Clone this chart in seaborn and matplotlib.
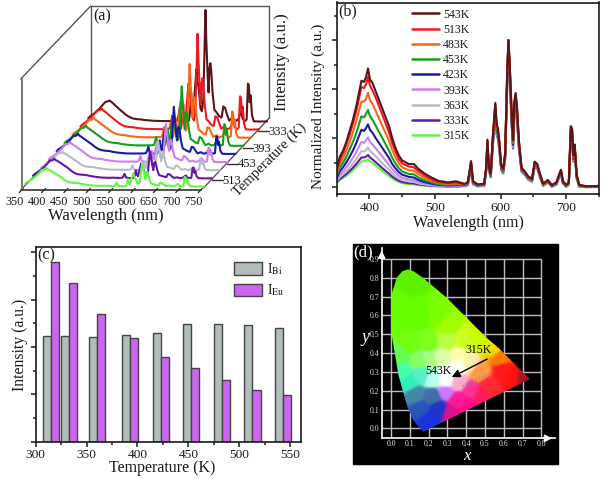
import numpy as np
import pandas as pd
import seaborn as sns
import matplotlib.pyplot as plt
from matplotlib.colors import to_rgb
from matplotlib.lines import Line2D
from matplotlib.patches import Patch, Polygon, Rectangle
from matplotlib.ticker import MultipleLocator
from matplotlib.transforms import Affine2D, IdentityTransform, ScaledTranslation

W, H = 602, 479

# spectra, wavelength grid split at the Bi band / Eu lines
wl_band = [350,355,360,365,370,375,380,385,388,392,395,398,401,405,410,415,420,425,430,435,440,445,450,460,468,475,485,495,505,520,532]
wl_eu = [545,550,553,555,558,565,575,578,580,582,585,588,592,594,596,598,601,604,607,610,612,614,617,619,621,623,625,628,632,637,642,648,652,656,660,665,672,678,685,689,692,695,700,704,707,709,711,713,716,720,730,745,750]

band_543 = [.7,1.25,1.5,1.85,2.3,2.75,3.3,3.95,4.35,4.3,4.5,4.85,4.4,4.25,3.9,3.55,3.2,2.85,2.5,2.0,1.6,1.3,1.1,.95,.95,.75,.55,.4,.27,.2,.25]
band_513 = [.65,1.1,1.4,1.75,2.15,2.6,3.1,3.7,4.1,4.05,4.2,4.5,4.15,3.95,3.65,3.3,2.95,2.6,2.25,1.8,1.45,1.15,.98,.85,.82,.65,.47,.33,.22,.17,.2]
band_483 = [.55,.95,1.2,1.5,1.85,2.25,2.7,3.2,3.5,3.5,3.6,3.86,3.55,3.4,3.1,2.8,2.5,2.2,1.9,1.52,1.22,.98,.82,.7,.68,.53,.38,.27,.18,.14,.16]
band_453 = [.45,.8,1.0,1.25,1.55,1.85,2.2,2.65,2.9,2.85,3.0,3.16,2.9,2.75,2.5,2.25,2.0,1.75,1.5,1.2,.97,.78,.65,.55,.53,.4,.28,.2,.13,.1,.12]
band_423 = [.37,.65,.82,1.02,1.25,1.5,1.8,2.15,2.35,2.3,2.42,2.57,2.35,2.22,2.0,1.8,1.6,1.4,1.2,.95,.77,.62,.52,.43,.4,.3,.21,.15,.1,.08,.09]
band_393 = [.3,.52,.65,.82,1.0,1.2,1.43,1.7,1.85,1.82,1.92,2.04,1.86,1.75,1.58,1.42,1.25,1.08,.92,.74,.6,.48,.4,.32,.3,.22,.16,.11,.08,.06,.07]
band_363 = [.25,.42,.53,.66,.8,.97,1.15,1.36,1.48,1.46,1.53,1.63,1.48,1.4,1.26,1.12,.98,.85,.72,.58,.46,.37,.3,.24,.22,.16,.12,.08,.06,.05,.05]
band_333 = [.2,.34,.44,.55,.67,.8,.95,1.12,1.22,1.22,1.25,1.32,1.22,1.14,1.02,.9,.78,.67,.56,.44,.35,.27,.22,.17,.16,.12,.09,.06,.05,.04,.04]
band_315 = [.17,.3,.38,.47,.58,.7,.83,.97,1.05,1.08,1.1,1.14,1.07,1.0,.88,.77,.66,.56,.46,.36,.28,.22,.17,.13,.12,.09,.07,.05,.04,.03,.03]

eu_543 = [.14,.2,.7,1.07,.25,.12,.15,.8,1.95,.9,.55,2.0,3.45,2.6,2.4,1.9,.9,.75,1.4,4.6,6.0,5.0,3.0,1.93,3.5,3.85,3.3,1.9,.8,.65,.45,.35,1.05,.95,.55,.15,.3,.1,.2,.5,.72,.25,.1,.2,2.5,2.4,1.3,1.75,.5,.1,.05,.05,.07]
eu_513 = [.13,.2,.68,1.05,.24,.11,.14,.78,1.9,.88,.53,1.95,3.38,2.55,2.35,1.85,.87,.73,1.37,4.55,6.0,4.95,2.95,1.89,3.43,3.77,3.23,1.86,.78,.63,.44,.34,1.03,.93,.54,.14,.29,.09,.19,.49,.7,.24,.09,.19,2.45,2.35,1.27,1.7,.49,.09,.05,.05,.06]
eu_483 = [.12,.18,.66,1.02,.23,.1,.13,.76,1.87,.86,.52,1.92,3.33,2.5,2.3,1.82,.85,.71,1.34,4.5,6.0,4.9,2.9,1.85,3.36,3.7,3.17,1.82,.76,.62,.43,.33,1.0,.91,.52,.13,.28,.08,.18,.48,.69,.23,.08,.18,2.4,2.3,1.25,1.68,.47,.08,.04,.04,.06]
eu_453 = [.1,.16,.62,.98,.21,.09,.12,.73,1.8,.83,.5,1.85,3.22,2.42,2.22,1.76,.82,.68,1.3,4.4,6.0,4.8,2.8,1.79,3.25,3.58,3.07,1.76,.74,.6,.41,.31,.97,.88,.5,.12,.27,.07,.17,.46,.67,.22,.07,.17,2.33,2.22,1.2,1.62,.45,.07,.03,.04,.05]
eu_423 = [.09,.14,.58,.94,.19,.08,.1,.7,1.75,.8,.48,1.8,3.12,2.35,2.15,1.7,.79,.65,1.26,4.3,6.0,4.7,2.7,1.73,3.15,3.46,2.97,1.7,.71,.58,.39,.29,.94,.85,.48,.1,.25,.06,.15,.44,.64,.2,.06,.15,2.25,2.15,1.16,1.57,.43,.06,.03,.03,.05]
eu_393 = [.08,.12,.55,.92,.17,.07,.09,.68,1.7,.78,.46,1.75,3.05,2.3,2.1,1.66,.77,.63,1.22,4.2,6.0,4.6,2.65,1.69,3.08,3.38,2.9,1.66,.69,.56,.37,.27,.91,.82,.46,.09,.24,.05,.14,.42,.62,.19,.05,.14,2.2,2.1,1.13,1.53,.41,.05,.02,.03,.04]
eu_363 = [.07,.11,.52,.89,.16,.06,.08,.66,1.66,.76,.44,1.7,2.98,2.24,2.05,1.62,.75,.6,1.18,4.1,6.0,4.5,2.6,1.65,3.0,3.3,2.83,1.62,.67,.54,.35,.26,.88,.8,.44,.08,.22,.04,.13,.4,.6,.18,.04,.13,2.15,2.05,1.1,1.49,.39,.04,.02,.02,.04]
eu_333 = [.06,.1,.5,.86,.14,.05,.07,.64,1.62,.74,.42,1.66,2.9,2.18,2.0,1.58,.73,.58,1.14,4.0,6.0,4.4,2.52,1.61,2.93,3.22,2.76,1.58,.65,.52,.33,.24,.85,.77,.42,.07,.21,.03,.12,.38,.58,.17,.03,.12,2.1,2.0,1.07,1.45,.37,.03,.01,.02,.03]
eu_315 = [.05,.08,.47,.83,.12,.04,.06,.62,1.58,.72,.4,1.62,2.82,2.12,1.95,1.54,.71,.56,1.1,3.9,6.0,4.3,2.45,1.57,2.86,3.14,2.7,1.55,.63,.5,.31,.22,.82,.74,.4,.06,.2,.02,.11,.36,.56,.16,.02,.11,2.05,1.95,1.04,1.41,.35,.02,.01,.01,.02]

temps = ['543K','513K','483K','453K','423K','393K','363K','333K','315K']
bands = [band_543,band_513,band_483,band_453,band_423,band_393,band_363,band_333,band_315]
eus = [eu_543,eu_513,eu_483,eu_453,eu_423,eu_393,eu_363,eu_333,eu_315]
colors = ['#5a1518','#f01820','#f8661a','#12a018','#1a1aa8','#cc80ec','#b4bcc8','#6418a8','#60f840']

# raw height of the 612 nm line in panel (a), same order as temps
eu_peak = [70,80,88,115,142,179,222,288,335]
temp_ticks = ['333','393','453','513']

# panel (c)
bar_temp = [315,333,360,393,423,453,483,513,543]
i_bi = [4.45,4.45,4.41,4.51,4.61,4.96,4.99,4.92,4.79]
i_eu = [7.58,6.70,5.38,4.37,3.59,3.10,2.59,2.18,1.96]

# panel (d), outline and colour anchors of the chromaticity diagram
locus_x = [.172,.14,.115,.085,.04,.003,0,.005,.03,.06,.09,.12,.17,.23,.30,.37,.44,.51,.575,.63,.69,.74]
locus_y = [-.018,.015,.05,.12,.28,.50,.62,.72,.80,.835,.845,.835,.80,.75,.69,.62,.55,.48,.425,.37,.31,.262]
anchor_x = [.05,.15,.25,.1,.02,.1,.2,.3,.05,.15,.3,.38,.46,.5,.55,.2,.27,.36,.3,.36,.42,.29,.47,.58,.6,.65,.7,.36,.42,.52,.4,.32,.48,.06,.1,.16,.22,.13,.22,.2,.16,.25,.29,.36]
anchor_y = [.6,.6,.6,.8,.65,.45,.45,.55,.38,.36,.46,.46,.48,.45,.42,.37,.38,.39,.28,.33,.34,.24,.3,.38,.3,.27,.27,.24,.2,.22,.13,.08,.17,.3,.24,.28,.26,.18,.17,.05,.1,.1,.2,.15]
anchor_c = ['#66ff00','#66ff00','#7cff00','#5ff000','#66ff00','#72ff10','#80ff20','#a0ff00','#66ff55','#88ff66','#bbff44','#ccff22','#ccff00','#dcf000','#eedd00',
            '#aaff88','#ddffaa','#ffffaa','#ffffff','#ffffee','#ffeeaa','#ffffff','#ff9944','#ff7700','#ff1a1a','#ff1111','#a81822','#ffaacc','#ff3399','#ff2a33','#ff1188','#e01090','#ff1a66',
            '#44ffaa','#33eebb','#55f0c8','#bbffee','#3f88a8','#3f70aa','#1a33dd','#2a55bb','#2035c8','#cc77ff','#ff1a99']

sns.set_theme(style='ticks')
plt.rcParams['font.family'] = ['Liberation Serif', 'DejaVu Serif']
plt.rcParams['mathtext.fontset'] = 'stix'
plt.rcParams['axes.edgecolor'] = '#1a1a1a'
plt.rcParams['axes.linewidth'] = 1.2
plt.rcParams['xtick.color'] = '#1a1a1a'
plt.rcParams['ytick.color'] = '#1a1a1a'
plt.rcParams['text.color'] = '#1a1a1a'

fig = plt.figure(figsize=(W / 100, H / 100), dpi=100)


def box(x0, y0, x1, y1):
    # pixel box, y counted from the top
    return fig.add_axes([x0 / W, 1 - y1 / H, (x1 - x0) / W, (y1 - y0) / H])


def label(x, y, s, **kw):
    kw.setdefault('ha', 'center')
    kw.setdefault('va', 'center')
    fig.text(x / W, 1 - y / H, s, **kw)


def rule(xs, ys, color='#555555', lw=1):
    fig.add_artist(Line2D(xs, [H - v for v in ys], color=color, lw=lw,
                          transform=IdentityTransform(), zorder=-1))


wl = np.array(wl_band + wl_eu)
curves = [np.array(b + e) for b, e in zip(bands, eus)]

# (a) waterfall, 315K at the back in the dark colour, 543K at the front in light green
ax = box(21.7, 79, 200.7, 190)
ax.patch.set_alpha(0)
step_x, step_y = 7.9, 8.13
for n in range(9):
    i = 8 - n
    y = curves[i] * eu_peak[i] / 6
    slot = 8 - n
    shift = Affine2D().translate(3.3 + slot * step_x, 3.3 + slot * step_y)
    sns.lineplot(x=wl, y=y, color=colors[n], lw=1.5, ax=ax, transform=ax.transData + shift,
                 clip_on=False, legend=False, errorbar=None)
ax.set_xlim(350, 750)
ax.set_ylim(0, 333)
ax.spines[['top', 'right']].set_visible(False)
ax.spines['left'].set_color('#777777')
ax.spines['left'].set_linewidth(1.5)
ax.spines['bottom'].set_color('#333333')
ax.set_yticks([])
ax.set_xticks(range(350, 751, 50))
ax.tick_params(axis='x', length=0, labelsize=8.8, pad=4)
for t in ax.get_xticklabels():
    t.set_transform(t.get_transform() + ScaledTranslation(-0.07, 0, fig.dpi_scale_trans))
ax.set_xlabel('')
ax.set_ylabel('')
# slanted ticks follow the depth axis
for tick in ax.get_xticks():
    px = ax.transData.transform((tick, 0))[0]
    rule([px - 2.5, px + 1.5], [192.5, 188.5], color='#333333')
rule([90.7, 90.7, 269.3, 269.3], [118, 6, 6, 118])
rule([20.7, 90.7], [79, 6])
rule([20.7, 90.7], [190, 118])
rule([203.5, 269.3], [188, 118])
for s, xa, xb, ty, tx in zip(temp_ticks, [258, 243, 227, 212], [269, 253, 238, 223], [131, 148, 163.5, 180], [278, 262, 247, 232]):
    rule([xa, xb], [ty, ty], color='#333333')
    label(tx, ty + 1, s, fontsize=9)
label(106, 216, 'Wavelength (nm)', fontsize=12)
label(102, 16, '(a)', fontsize=11.5)
label(282, 62, 'Intensity (a.u.)', fontsize=12, rotation=90)
label(270, 160, 'Temperature (K)', fontsize=10.5, rotation=45, rotation_mode='anchor')

# (b) normalized spectra
bx = box(336.5, 2.5, 599, 194)
long = pd.DataFrame({'wl': np.tile(wl, 9), 'I': np.concatenate(curves),
                     'T': np.repeat(temps, len(wl))})
sns.lineplot(data=long, x='wl', y='I', hue='T', hue_order=temps[::-1], palette=colors[::-1],
             lw=1.5, ax=bx, legend=False, errorbar=None)
bx.set_xlim(350, 750)
bx.set_ylim(-0.27, 7.54)
bx.xaxis.set_major_locator(MultipleLocator(100))
bx.xaxis.set_minor_locator(MultipleLocator(50))
bx.yaxis.set_major_locator(MultipleLocator(2))
bx.yaxis.set_minor_locator(MultipleLocator(1))
bx.set_yticklabels([])
bx.tick_params(axis='both', which='major', length=3.5, width=1.1, labelsize=9.6, pad=2)
bx.tick_params(axis='both', which='minor', length=2.2, width=1.1)
bx.set_xlabel('')
bx.set_ylabel('')
handles = [Line2D([], [], color=c, lw=1.8) for c in colors]
bx.legend(handles, temps, loc='upper left', bbox_to_anchor=(0.288, 0.968), frameon=False,
          fontsize=8.5, handlelength=2.29, handletextpad=0.34, labelspacing=0.27,
          borderpad=0, borderaxespad=0)
label(348, 11, '(b)', fontsize=11.5)
label(468, 223, 'Wavelength (nm)', fontsize=11.5)
label(318, 106.5, 'Normalized Intensity (a.u.)', fontsize=11, rotation=90)

# (c) bars
cx = box(35.7, 246.7, 301, 441.7)
bars = pd.DataFrame({'T': bar_temp * 2, 'I': i_bi + i_eu,
                     'kind': ['Bi'] * 9 + ['Eu'] * 9})
sns.barplot(data=bars, x='T', y='I', hue='kind', hue_order=['Bi', 'Eu'], native_scale=True,
            palette=['#b1bcbc', '#cc66ee'], width=16 / 18, saturation=1, edgecolor='#444444',
            linewidth=1, legend=False, ax=cx, errorbar=None)
cx.set_xlim(300, 560.8)
cx.set_ylim(0, 8.24)
cx.xaxis.set_major_locator(MultipleLocator(50))
cx.xaxis.set_minor_locator(MultipleLocator(25))
cx.yaxis.set_major_locator(MultipleLocator(2))
cx.yaxis.set_minor_locator(MultipleLocator(1))
cx.set_yticklabels([])
cx.tick_params(axis='both', which='major', length=3.5, width=1.1, labelsize=9.6, pad=2)
cx.tick_params(axis='both', which='minor', length=2.2, width=1.1)
cx.set_xlabel('')
cx.set_ylabel('')
legend_handles = [Patch(facecolor='#b1bcbc', edgecolor='#444444'), Patch(facecolor='#cc66ee', edgecolor='#444444')]
cx.legend(legend_handles, [r'I$_{\mathrm{Bi}}$', r'I$_{\mathrm{Eu}}$'], loc='upper left',
          bbox_to_anchor=(0.749, 0.926), frameon=False, fontsize=10, handlelength=1.97,
          handleheight=1.0, handletextpad=0.35, labelspacing=0.4, borderpad=0, borderaxespad=0)
label(46, 255, '(c)', fontsize=11.5)
label(162, 468, 'Temperature (K)', fontsize=11.5)
label(20, 345, 'Intensity (a.u.)', fontsize=11.3, rotation=90)

# (d) chromaticity diagram on a black card
fig.add_artist(Rectangle((352.7 / W, 1 - 464 / H), 205.6 / W, 219.7 / H, color='black',
                         transform=fig.transFigure, zorder=-1))
dx = box(381.7, 247.7, 555, 438.3)
dx.set_facecolor('black')
dx.vlines(np.arange(0, 0.81, 0.1), -0.053, 0.9, color='#bdbdbd', lw=1, zorder=1)
dx.hlines(np.arange(0, 0.91, 0.1), -0.05, 0.8, color='#bdbdbd', lw=1, zorder=1)
gx, gy = np.meshgrid(np.linspace(0, 0.76, 260), np.linspace(-0.03, 0.86, 260))
dist = (gx - np.array(anchor_x)[:, None, None]) ** 2 + (gy - np.array(anchor_y)[:, None, None]) ** 2 + 0.0008
weight = dist ** -5.0
rgb = np.array([to_rgb(c) for c in anchor_c])
img = np.tensordot(weight, rgb, axes=(0, 0)) / weight.sum(axis=0)[..., None]
im = dx.imshow(img, extent=(0, 0.76, -0.03, 0.86), origin='lower', aspect='auto',
               interpolation='bilinear', zorder=2)
im.set_clip_path(Polygon(np.column_stack([locus_x, locus_y]), transform=dx.transData))
dx.set_xlim(-0.05, 0.873)
dx.set_ylim(-0.053, 0.96)
dx.spines[['top', 'right']].set_visible(False)
dx.spines[['left', 'bottom']].set_color('white')
dx.set_xticks(np.arange(0, 0.81, 0.1))
dx.set_yticks(np.arange(0, 0.91, 0.1))
dx.tick_params(axis='both', length=0, labelsize=5.6, labelcolor='#dddddd', pad=1.5)
dx.annotate('', xy=(0.873, -0.053), xytext=(0.78, -0.053), annotation_clip=False,
            arrowprops=dict(arrowstyle='-|>', color='white', lw=0.8))
dx.annotate('', xy=(-0.05, 0.96), xytext=(-0.05, 0.88), annotation_clip=False,
            arrowprops=dict(arrowstyle='-|>', color='white', lw=0.8))
dx.annotate('', xy=(0.31, 0.265), xytext=(0.525, 0.375), zorder=5,
            arrowprops=dict(arrowstyle='-|>', color='black', lw=1))
dx.plot([0.38, 0.56], [0.225, 0.31], color='#7a8a9a', lw=1, ls=':', zorder=4)
label(479, 350, '315K', fontsize=8.5, color='black')
label(438.3, 371, '543K', fontsize=8.5, color='black')
label(362.7, 252, '(d)', fontsize=12, color='white')
label(466.7, 456, 'x', fontsize=12, color='white', style='italic')
label(365, 337.7, 'y', fontsize=13, color='white', style='italic')

fig.savefig('out.png', dpi=100)
